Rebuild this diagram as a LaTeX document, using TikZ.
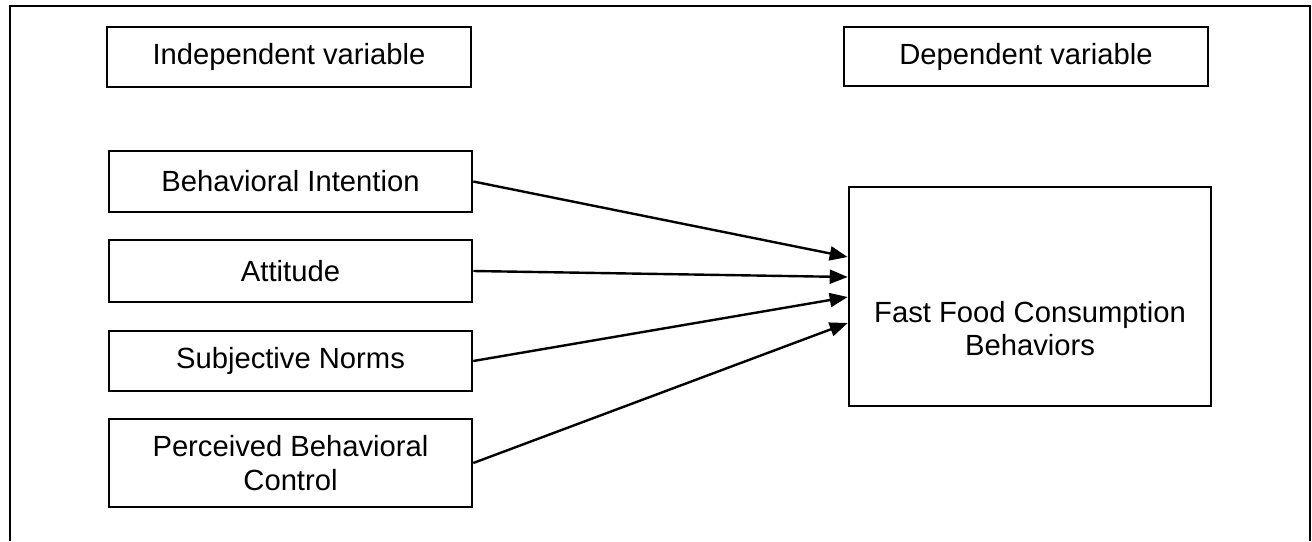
\documentclass[tikz,border=0pt]{standalone}
\usepackage{fontspec}
\setmainfont{Liberation Sans}
\usetikzlibrary{arrows.meta}
\begin{document}
\begin{tikzpicture}[x=0.5pt,y=-0.5pt,
  box/.style={draw=black, line width=1.3pt, rectangle, inner sep=0pt, align=center,
    font=\fontsize{14.6pt}{17pt}\selectfont},
  conn/.style={line width=1.2pt, -{Triangle[length=9pt,width=7pt]}},
  txt/.style={align=center, font=\fontsize{14.6pt}{16.5pt}\selectfont}]
\useasboundingbox (0,0) rectangle (1312,541);
\draw[line width=1.2pt] (10,541) -- (10,6) -- (1310,6) -- (1310,541);
\node[box, minimum width=182pt, minimum height=30pt] (indep) at (289,57) {Independent variable};
\node[box, minimum width=182pt, minimum height=29.5pt] (dep) at (1026,56.5) {Dependent variable};
\node[box, minimum width=181.5pt, minimum height=30.5pt] (bi) at (290.5,181.5) {Behavioral Intention};
\node[box, minimum width=181.5pt, minimum height=31pt] (att) at (290.5,271) {Attitude};
\node[box, minimum width=181.5pt, minimum height=30pt] (sn) at (290.5,361) {Subjective Norms};
\node[box, minimum width=181.5pt, minimum height=44pt] (pbc) at (290.5,463) {Perceived Behavioral\\Control};
\node[box, minimum width=181pt, minimum height=109.5pt] (big) at (1030,296.5) {};
\node[txt] (bigtext) at ([yshift=-16pt]big.center) {Fast Food Consumption\\Behaviors};
\draw[conn] (bi.east) -- ([yshift=19.75pt]big.west);
\draw[conn] (att.east) -- ([yshift=9.75pt]big.west);
\draw[conn] (sn.east) -- ([yshift=-0.25pt]big.west);
\draw[conn] (pbc.east) -- ([yshift=-13.25pt]big.west);
\end{tikzpicture}
\end{document}
